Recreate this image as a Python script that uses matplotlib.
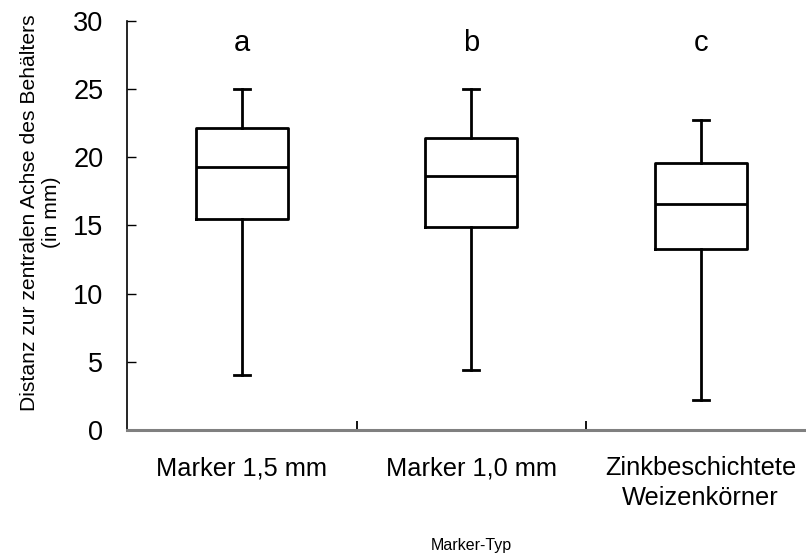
import matplotlib.pyplot as plt

# Daten
kategorien = ['Marker 1,5 mm', 'Marker 1,0 mm', 'Zinkbeschichtete\nWeizenkörner']
buchstaben = ['a', 'b', 'c']
whisker_hoch = [25.0, 25.0, 22.7]
q3 = [22.1, 21.4, 19.6]
median = [19.3, 18.6, 16.6]
q1 = [15.5, 14.9, 13.3]
whisker_tief = [4.0, 4.4, 2.2]

plt.rcParams['font.family'] = ['Liberation Sans', 'DejaVu Sans']

fig = plt.figure(figsize=(8.06, 5.59), dpi=100)
ax = fig.add_axes([0.1576, 0.2308, 0.8542, 0.7322])

stats = []
for i in range(len(kategorien)):
    stats.append(dict(whislo=whisker_tief[i], q1=q1[i], med=median[i],
                      q3=q3[i], whishi=whisker_hoch[i], fliers=[]))

pos = [1, 2, 3]
lw = 2.0
ax.bxp(stats, positions=pos, widths=0.40, showfliers=False,
       boxprops=dict(color='black', linewidth=lw),
       medianprops=dict(color='black', linewidth=lw),
       whiskerprops=dict(color='black', linewidth=lw),
       capprops=dict(color='black', linewidth=lw),
       capwidths=0.07)

for p, b in zip(pos, buchstaben):
    ax.text(p, 28.4, b, ha='center', va='center', fontsize=21)

ax.set_xlim(0.5, 3.5)
ax.set_ylim(0, 30)
ax.set_yticks(range(0, 31, 5))
ax.tick_params(axis='y', direction='in', length=6.5, width=1, labelsize=19.5, pad=17)

ax.set_xticks(pos)
ax.set_xticklabels(kategorien, fontsize=18.3, linespacing=1.3)
ax.set_xticks([1.5, 2.5], minor=True)
ax.tick_params(axis='x', which='major', length=0, pad=19)
ax.tick_params(axis='x', which='minor', direction='in', length=6.5, width=1.3)

ax.spines['top'].set_visible(False)
ax.spines['right'].set_visible(False)
ax.spines['left'].set_linewidth(1.2)
ax.spines['bottom'].set_linewidth(2.2)
ax.spines['bottom'].set_color('#808080')

ax.set_ylabel('Distanz zur zentralen Achse des Behälters\n(in mm)', fontsize=15.2)
ax.yaxis.set_label_coords(-0.096, 0.532)
ax.set_xlabel('Marker-Typ', fontsize=11.5, labelpad=20)

plt.savefig('out.png', dpi=100, facecolor='white')
